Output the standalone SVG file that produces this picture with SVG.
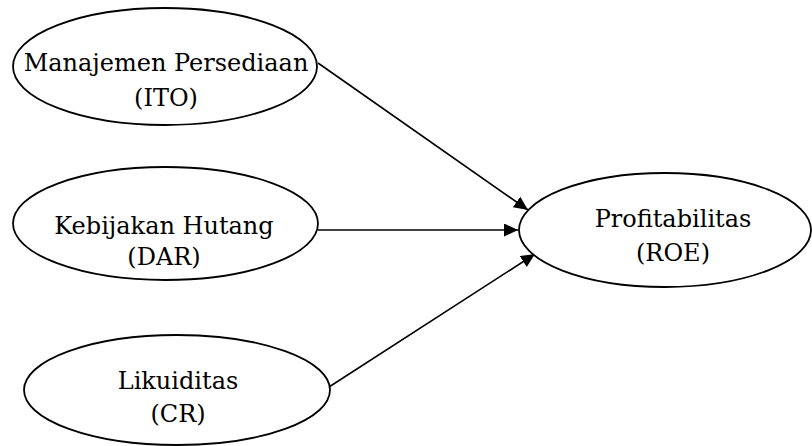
<svg xmlns="http://www.w3.org/2000/svg" width="812" height="446" viewBox="0 0 812 446">
  <defs>
    <marker id="arrow" markerUnits="userSpaceOnUse" markerWidth="15" markerHeight="14" refX="14" refY="6.5" orient="auto">
      <path d="M0,0 L14,6.5 L0,13 z" fill="#000"/>
    </marker>
    <style>
      .node ellipse { fill: #fff; stroke: #000; stroke-width: 1.8; }
      .node text { font-family: "DejaVu Serif", "Liberation Serif", serif; font-size: 24px; fill: #000; text-anchor: middle; }
      .edge { stroke: #000; stroke-width: 1.6; fill: none; marker-end: url(#arrow); }
    </style>
  </defs>
  <rect width="812" height="446" fill="#fff"/>
  <g id="connectors">
    <line class="edge" x1="318" y1="63" x2="528" y2="210"/>
    <line class="edge" x1="318" y1="230" x2="518" y2="230"/>
    <line class="edge" x1="329" y1="387" x2="535" y2="254"/>
  </g>
  <g id="node-ito" class="node">
    <ellipse cx="165" cy="66.5" rx="152" ry="58.5"/>
    <text x="166" y="71">Manajemen Persediaan</text>
    <text x="166" y="106">(ITO)</text>
  </g>
  <g id="node-dar" class="node">
    <ellipse cx="165.5" cy="223.5" rx="152.5" ry="56.5"/>
    <text x="164" y="234">Kebijakan Hutang</text>
    <text x="164" y="265">(DAR)</text>
  </g>
  <g id="node-cr" class="node">
    <ellipse cx="177" cy="390" rx="153" ry="55"/>
    <text x="178" y="389">Likuiditas</text>
    <text x="178" y="422">(CR)</text>
  </g>
  <g id="node-roe" class="node">
    <ellipse cx="665" cy="230" rx="146" ry="57"/>
    <text x="673" y="227">Profitabilitas</text>
    <text x="673" y="261">(ROE)</text>
  </g>
</svg>
